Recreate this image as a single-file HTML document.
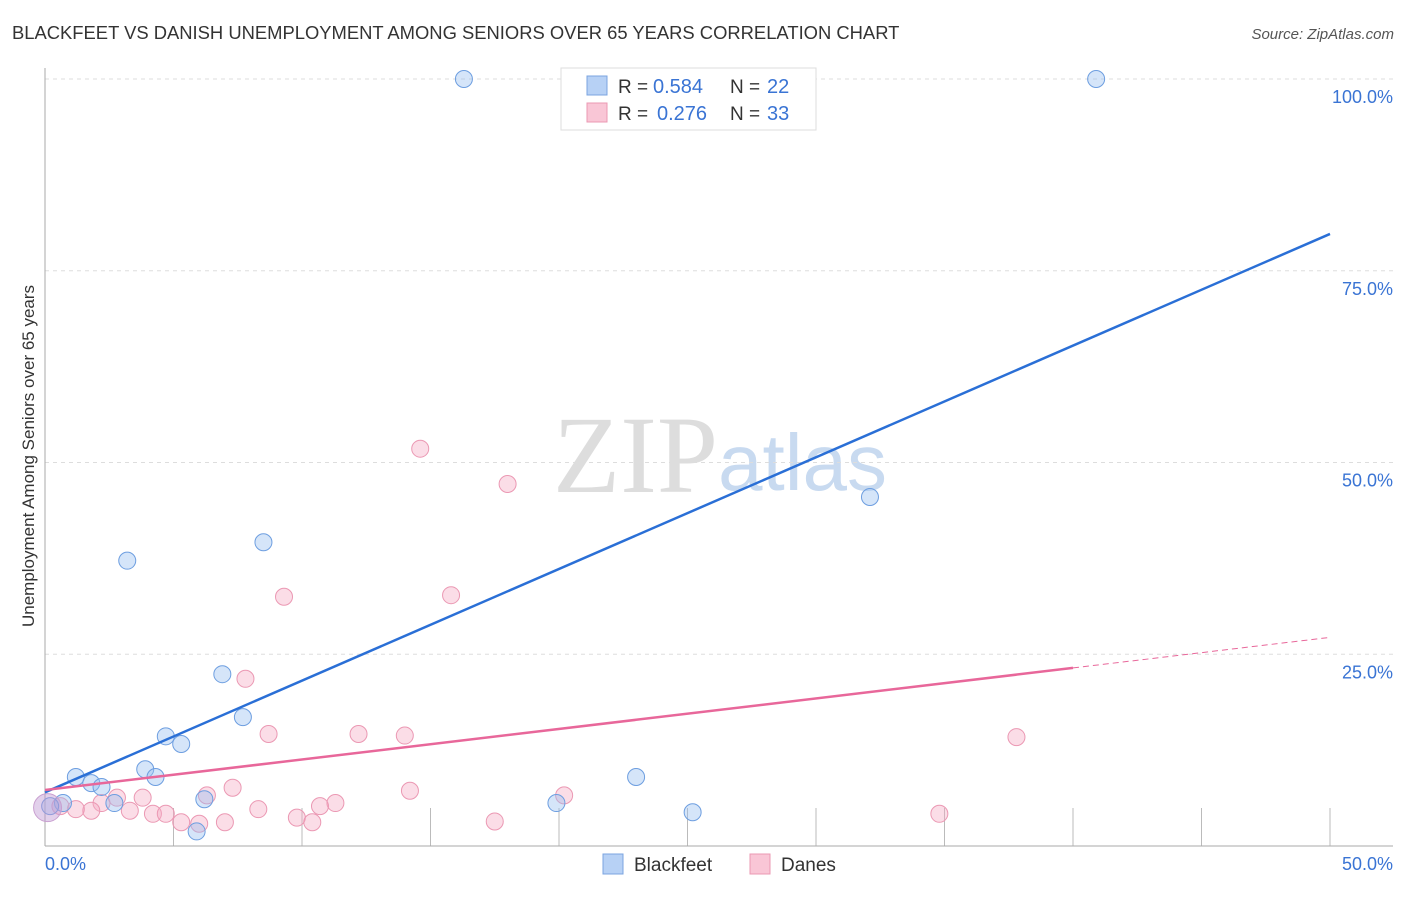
<!DOCTYPE html>
<html><head><meta charset="utf-8"><style>
body{margin:0;background:#fff;font-family:"Liberation Sans",sans-serif}
</style></head><body>
<svg id="c" width="1406" height="892" xmlns="http://www.w3.org/2000/svg">
<text x="12" y="39" font-size="18.4" fill="#333">BLACKFEET VS DANISH UNEMPLOYMENT AMONG SENIORS OVER 65 YEARS CORRELATION CHART</text>
<text x="1394" y="39" font-size="15" fill="#555" text-anchor="end" font-style="italic">Source: ZipAtlas.com</text>
<text x="553" y="492" font-size="110" fill="#ddd" font-family="Liberation Serif,serif">ZIP</text>
<text x="718" y="490" font-size="80" fill="#c8daf0">atlas</text>
<text x="34" y="456" font-size="17" fill="#333" text-anchor="middle" transform="rotate(-90 34 456)">Unemployment Among Seniors over 65 years</text>
<g id="grid"></g><g id="marks"></g>
<g>
<rect x="561" y="68" width="255" height="62" fill="#fff" stroke="#ddd"/>
<rect x="587" y="76" width="20" height="19" fill="#b7d1f5" stroke="#7ba4e0"/>
<rect x="587" y="103" width="20" height="19" fill="#f9c6d6" stroke="#eb98b3"/>
<text x="618" y="93" font-size="19" fill="#333">R =</text>
<text x="653" y="93" font-size="20" fill="#3a74d4">0.584</text>
<text x="730" y="93" font-size="19" fill="#333">N =</text>
<text x="767" y="93" font-size="20" fill="#3a74d4">22</text>
<text x="618" y="120" font-size="19" fill="#333">R =</text>
<text x="657" y="120" font-size="20" fill="#3a74d4">0.276</text>
<text x="730" y="120" font-size="19" fill="#333">N =</text>
<text x="767" y="120" font-size="20" fill="#3a74d4">33</text>
</g>
<g>
<rect x="603" y="854" width="20" height="20" fill="#b7d1f5" stroke="#7ba4e0"/>
<text x="634" y="871" font-size="19" fill="#333">Blackfeet</text>
<rect x="750" y="854" width="20" height="20" fill="#f9c6d6" stroke="#eb98b3"/>
<text x="781" y="871" font-size="19" fill="#333">Danes</text>
</g>
</svg>
<script>
const blackX=[16.3,40.9,32.1,8.5,3.2,6.9,7.7,4.7,5.3,3.9,4.3,1.2,1.8,2.2,2.7,6.2,19.9,23.0,25.2,5.9,0.7,0.2];
const blackY=[100,100,45.5,39.6,37.2,22.4,16.8,14.3,13.3,10.0,9.0,9.0,8.2,7.7,5.6,6.1,5.6,9.0,4.4,1.9,5.6,5.2];
const daneX=[14.6,18.0,9.3,15.8,7.8,8.7,12.2,14.0,37.8,7.3,14.2,20.2,3.8,6.3,11.3,10.7,8.3,9.8,34.8,17.5,10.4,7.0,5.3,6.0,4.2,4.7,3.3,2.2,1.8,1.2,0.6,2.8];
const daneY=[51.8,47.2,32.5,32.7,21.8,14.6,14.6,14.4,14.2,7.6,7.2,6.6,6.3,6.6,5.6,5.2,4.8,3.7,4.2,3.2,3.1,3.1,3.1,2.9,4.2,4.2,4.6,5.6,4.6,4.8,5.2,6.3];
const yTicks=[25,50,75,100];
const yTickLabels=["25.0%","50.0%","75.0%","100.0%"];
const xTicks=[5,10,15,20,25,30,35,40,45,50];
const blueTrend=[7.0,79.8];
const pinkTrend=[7.3,27.2];
const pinkSolidEnd=40;
const NS="http://www.w3.org/2000/svg";
const X=v=>45+v*25.7, Y=v=>846-v*7.67;
const g=document.getElementById('grid'), m=document.getElementById('marks');
function el(t,a,p){const e=document.createElementNS(NS,t);for(const k in a)e.setAttribute(k,a[k]);p.appendChild(e);return e;}
yTicks.forEach((t,i)=>{
 const l=el('line',{x1:45,x2:1393,y1:Y(t),y2:Y(t),stroke:'#ddd','stroke-dasharray':'4 4'},g);
 
 
 const tx=el('text',{x:1393,y:Y(t)+24,'font-size':18,fill:'#3a74d4','text-anchor':'end'},g);tx.textContent=yTickLabels[i];
 
 
});
xTicks.forEach(t=>{
 const l=el('line',{x1:X(t),x2:X(t),y1:808,y2:846,stroke:'#bbb'},g);
 
 
});
el('line',{x1:45,x2:45,y1:68,y2:846,stroke:'#aaa'},g);
el('line',{x1:45,x2:1393,y1:846,y2:846,stroke:'#aaa'},g);
let t0=el('text',{x:45,y:870,'font-size':18,fill:'#3a74d4'},g);t0.textContent='0.0%';


let t1=el('text',{x:1393,y:870,'font-size':18,fill:'#3a74d4','text-anchor':'end'},g);t1.textContent='50.0%';


daneX.forEach((x,i)=>{
 const c=el('circle',{cx:X(x),cy:Y(daneY[i]),r:8.5,fill:'rgba(246,170,195,0.4)',stroke:'#eb98b3','stroke-width':1},m);
 
 
});
blackX.forEach((x,i)=>{
 const c=el('circle',{cx:X(x),cy:Y(blackY[i]),r:8.5,fill:'rgba(150,190,240,0.4)',stroke:'#6d9ee0','stroke-width':1},m);
 
 
});
const big=el('circle',{cx:X(0.1),cy:Y(5.0),r:14,fill:'rgba(190,150,210,0.45)',stroke:'#c9a0d0'},m);


const bl=el('line',{x1:X(0),y1:Y(blueTrend[0]),x2:X(50),y2:Y(blueTrend[1]),stroke:'#2a6fd6','stroke-width':2.5},m);


const pf=v=>pinkTrend[0]+(pinkTrend[1]-pinkTrend[0])*v/50;
const pl=el('line',{x1:X(0),y1:Y(pf(0)),x2:X(pinkSolidEnd),y2:Y(pf(pinkSolidEnd)),stroke:'#e8679a','stroke-width':2.5},m);


const pd=el('line',{x1:X(pinkSolidEnd),y1:Y(pf(pinkSolidEnd)),x2:X(50),y2:Y(pf(50)),stroke:'#e8679a','stroke-width':1,'stroke-dasharray':'6 4'},m);


</script>
</body></html>
